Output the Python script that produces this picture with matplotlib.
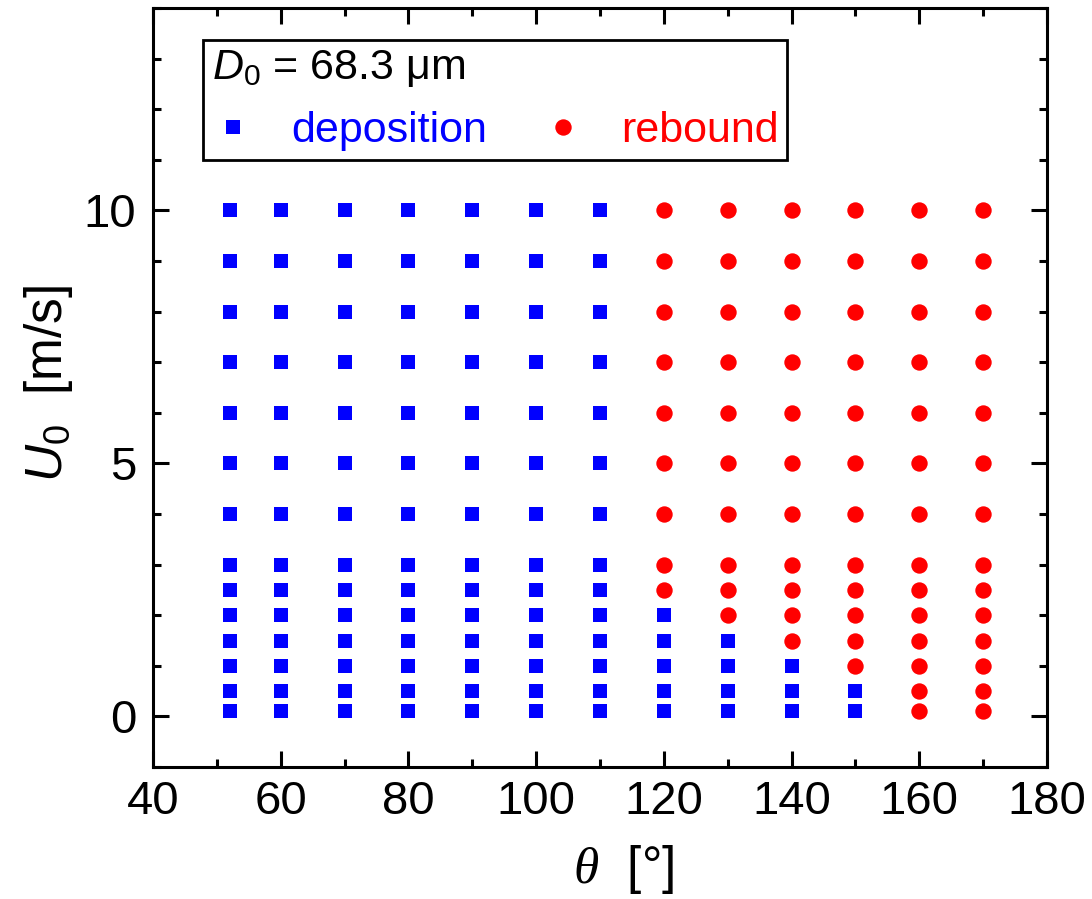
import matplotlib
matplotlib.use('Agg')
import matplotlib.pyplot as plt
from matplotlib.ticker import MultipleLocator
from matplotlib.lines import Line2D

plt.rcParams['font.family'] = ['Liberation Sans', 'DejaVu Sans']
plt.rcParams['mathtext.fontset'] = 'custom'
plt.rcParams['mathtext.rm'] = 'Liberation Sans'
plt.rcParams['mathtext.it'] = 'Liberation Sans:italic'
plt.rcParams['mathtext.cal'] = 'Liberation Serif:italic'

# contact angles [deg] and impact velocities [m/s]
theta = [52, 60, 70, 80, 90, 100, 110, 120, 130, 140, 150, 160, 170]
u0 = [0.1, 0.5, 1, 1.5, 2, 2.5, 3, 4, 5, 6, 7, 8, 9, 10]
# highest velocity that still deposits, per angle (None = none deposit)
dep_limit = [10, 10, 10, 10, 10, 10, 10, 2, 1.5, 1, 0.5, None, None]

dep_x, dep_y, reb_x, reb_y = [], [], [], []
for t, lim in zip(theta, dep_limit):
    for u in u0:
        if lim is not None and u <= lim:
            dep_x.append(t)
            dep_y.append(u)
        else:
            reb_x.append(t)
            reb_y.append(u)

fig = plt.figure(figsize=(10.92, 8.99), dpi=100)
ax = fig.add_axes([0.1401, 0.1468, 0.8187, 0.8443])

ax.plot(dep_x, dep_y, 's', color='#0000ff', markersize=10.5, markeredgewidth=0, linestyle='none')
ax.plot(reb_x, reb_y, 'o', color='#ff0000', markersize=11.8, markeredgewidth=0, linestyle='none')

ax.set_xlim(40, 180)
ax.set_ylim(-1, 14)
ax.xaxis.set_major_locator(MultipleLocator(20))
ax.xaxis.set_minor_locator(MultipleLocator(10))
ax.yaxis.set_major_locator(MultipleLocator(5))
ax.yaxis.set_minor_locator(MultipleLocator(1))
ax.tick_params(which='both', direction='in', top=True, right=True, width=2.2, labelsize=34)
ax.tick_params(axis='x', pad=9)
ax.tick_params(axis='y', pad=12)
ax.tick_params(which='major', length=11.5)
ax.tick_params(which='minor', length=6)
for s in ax.spines.values():
    s.set_linewidth(2.2)

ax.set_xlabel(r'$\mathcal{\theta}$  [°]', fontsize=37)
ax.xaxis.set_label_coords(0.526, -0.1)
ax.set_ylabel(r'$U_0$  [m/s]', fontsize=37)
ax.yaxis.set_label_coords(-0.087, 0.505)

handles = [Line2D([], [], marker='s', color='#0000ff', markersize=10.5, markeredgewidth=0, linestyle='none'),
           Line2D([], [], marker='o', color='#ff0000', markersize=11.8, markeredgewidth=0, linestyle='none')]
leg = ax.legend(handles, ['deposition', 'rebound'], ncol=2, title=r'$D_0$ = 68.3 μm',
                title_fontsize=31, fontsize=31, alignment='left', loc='upper left',
                bbox_to_anchor=(0.056, 0.958), labelcolor=['#0000ff', '#ff0000'],
                fancybox=False, edgecolor='black', framealpha=1, borderpad=0.2,
                handletextpad=0.85, columnspacing=1.25, handlelength=1.0, labelspacing=0.5,
                borderaxespad=0)
leg.get_frame().set_linewidth(2.0)

plt.savefig('out.png', dpi=100)
